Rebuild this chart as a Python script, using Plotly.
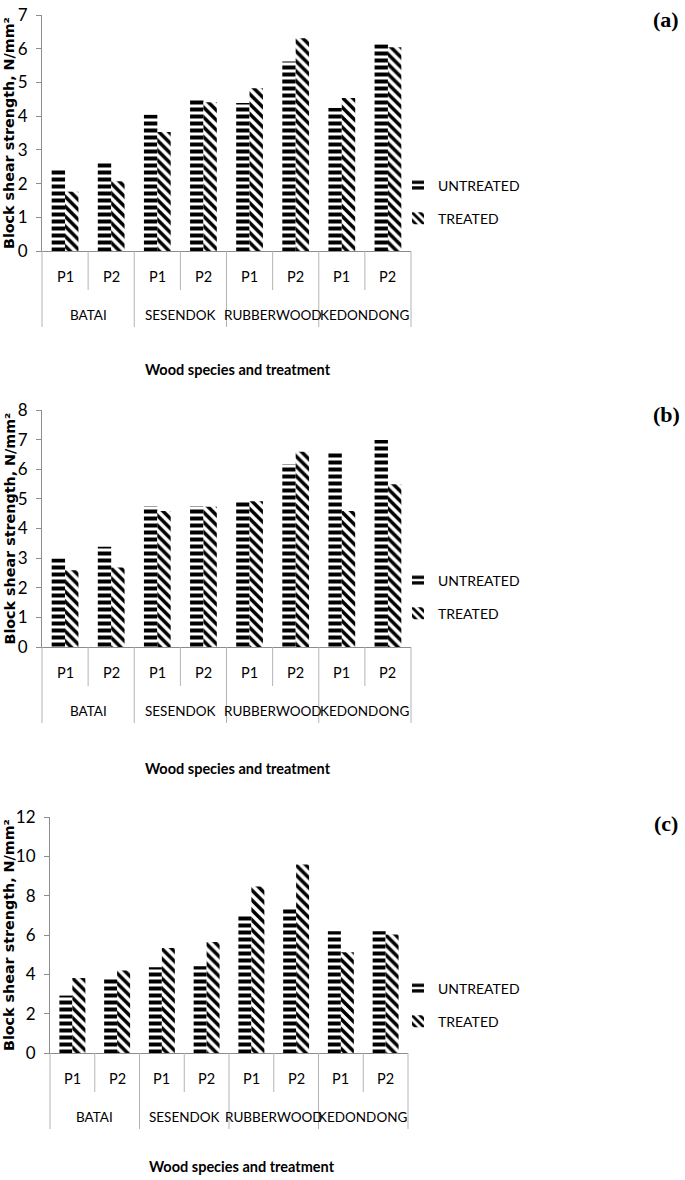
import plotly.graph_objects as go

species = ["BATAI", "SESENDOK", "RUBBERWOOD", "KEDONDONG"]
positions = ["P1", "P2"]
series_names = ["UNTREATED", "TREATED"]

a_untreated = [2.42, 2.64, 4.04, 4.52, 4.39, 5.62, 4.24, 6.13]
a_treated = [1.76, 2.07, 3.53, 4.41, 4.83, 6.31, 4.54, 6.04]
b_untreated = [2.99, 3.38, 4.75, 4.75, 4.92, 6.17, 6.59, 6.99]
b_treated = [2.59, 2.68, 4.59, 4.73, 4.92, 6.59, 4.59, 5.49]
c_untreated = [2.92, 3.78, 4.36, 4.41, 6.98, 7.41, 6.19, 6.19]
c_treated = [3.81, 4.19, 5.34, 5.64, 8.47, 9.58, 5.12, 6.02]

y_ranges = [[0, 7], [0, 8], [0, 12]]
y_dticks = [1, 1, 2]
panel_labels = ["(a)", "(b)", "(c)"]
y_title = "Block shear strength, N/mm²"
x_title = "Wood species and treatment"

W, H = 685, 1180
# pixel layout of each panel: (left, right, top, bottom)
panels_px = [(42, 411, 15, 251), (42, 411, 410, 647), (50, 408, 817, 1053)]
legend_centers = [202, 597, 1005]
xtitle_px = [(238, 369), (238, 768), (242, 1166)]
plabel_px = [(666, 20), (666, 415), (666, 823)]

SANS = "Lato, Roboto, sans-serif"
AX = "#8c8c8c"
SEP = "#b4b4b4"

cats = [f"{s} {p}" for s in species for p in positions]
data = [(a_untreated, a_treated), (b_untreated, b_treated), (c_untreated, c_treated)]
shapes_pat = ["-", "\\"]
pat_sizes = [7, 7]
pat_sol = [0.57, 0.5]

fig = go.Figure()
layout = {}
shapes = []
annotations = []

for k, (vals, (l, r, t, b)) in enumerate(zip(data, panels_px)):
    sfx = "" if k == 0 else str(k + 1)
    xa, ya = "x" + sfx, "y" + sfx
    leg = "legend" + sfx
    for j, name in enumerate(series_names):
        fig.add_trace(go.Bar(
            x=cats, y=vals[j], name=name, xaxis=xa, yaxis=ya,
            legend=leg, legendgroup=f"{k}{j}",
            marker=dict(color="black", line=dict(width=0),
                        pattern=dict(shape=shapes_pat[j], fgcolor="black",
                                     bgcolor="white", size=pat_sizes[j],
                                     solidity=pat_sol[j], fgopacity=1,
                                     fillmode="replace")),
        ))
    ph = b - t
    layout["xaxis" + sfx] = dict(
        domain=[l / W, r / W], anchor=ya, type="category",
        showticklabels=False, showline=True, linecolor=AX, linewidth=1,
        ticks="", showgrid=False, zeroline=False, fixedrange=True,
        automargin=False,
    )
    layout["yaxis" + sfx] = dict(
        domain=[1 - b / H, 1 - t / H], anchor=xa, range=y_ranges[k],
        dtick=y_dticks[k], showline=True, linecolor=AX, linewidth=1,
        ticks="outside", ticklen=5, tickcolor=AX, showgrid=False,
        zeroline=False, tickfont=dict(family=SANS, size=17, color="black"),
        ticklabelstandoff=5, automargin=False,
    )
    layout[leg] = dict(
        x=398 / W, xanchor="left", y=1 - legend_centers[k] / H,
        yanchor="middle", font=dict(family=SANS, size=14, color="black"),
        tracegroupgap=12, traceorder="grouped", bgcolor="rgba(0,0,0,0)",
        itemwidth=30,
    )
    # category separators below the axis
    n = len(cats)
    for i in range(n + 1):
        long = (i % len(positions) == 0)
        depth = (76 if long else 39) / ph
        shapes.append(dict(type="line", xref=xa + " domain", yref=ya + " domain",
                           x0=i / n, x1=i / n, y0=0, y1=-depth,
                           line=dict(color=SEP, width=1)))
    for i, c in enumerate(cats):
        annotations.append(dict(text=positions[i % len(positions)],
                                xref=xa + " domain", yref=ya + " domain",
                                x=(i + 0.5) / n, y=-25 / ph, showarrow=False,
                                xanchor="center", yanchor="middle",
                                font=dict(family=SANS, size=14.5, color="black")))
    for g, s in enumerate(species):
        annotations.append(dict(text=s, xref=xa + " domain", yref=ya + " domain",
                                x=(g * len(positions) + len(positions) / 2) / n,
                                y=-64 / ph, showarrow=False,
                                xanchor="center", yanchor="middle",
                                font=dict(family=SANS, size=13.5, color="black")))
    # y title
    annotations.append(dict(text=y_title, xref="paper", yref="paper",
                            x=9 / W, y=1 - (t + b) / 2 / H, textangle=-90,
                            showarrow=False, xanchor="center", yanchor="middle",
                            font=dict(family="DejaVu Sans", size=14.3,
                                      color="black", weight="bold")))
    # x title
    xt, yt = xtitle_px[k]
    annotations.append(dict(text="<b>" + x_title + "</b>", xref="paper", yref="paper",
                            x=xt / W, y=1 - yt / H, showarrow=False,
                            xanchor="center", yanchor="middle",
                            font=dict(family=SANS, size=14.5, color="black")))
    # panel label
    px_, py_ = plabel_px[k]
    annotations.append(dict(text="<b>" + panel_labels[k] + "</b>", xref="paper",
                            yref="paper", x=px_ / W, y=1 - py_ / H, showarrow=False,
                            xanchor="center", yanchor="middle",
                            font=dict(family="Liberation Serif, Times New Roman, serif",
                                      size=22, color="black")))

fig.update_layout(
    width=W, height=H, margin=dict(l=0, r=0, t=0, b=0, pad=0, autoexpand=False),
    paper_bgcolor="white", plot_bgcolor="white",
    barmode="group", bargap=0.42, bargroupgap=0,
    showlegend=True, shapes=shapes, annotations=annotations,
    **layout,
)

fig.write_html("out.html", config={"displayModeBar": False},
               post_script="document.body.style.margin='0';document.body.style.overflow='hidden';")
